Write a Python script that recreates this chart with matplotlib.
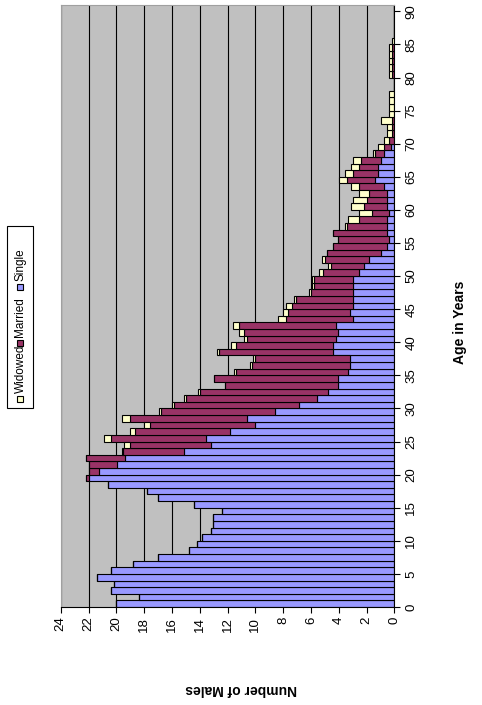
import numpy as np
import matplotlib
matplotlib.use("Agg")
import matplotlib.pyplot as plt
from matplotlib.patches import Rectangle

# age 0..90, males by marital status
ages = list(range(91))
single = [20.0, 18.35, 20.38, 20.19, 21.41, 20.38, 18.82, 16.98, 14.77, 14.17,
          13.81, 13.21, 13.02, 13.02, 12.37, 14.39, 16.98, 17.77, 20.58, 21.99,
          21.22, 19.98, 19.38, 15.16, 13.21, 13.57, 11.8, 10.02, 10.6, 8.59,
          6.83, 5.59, 4.8, 4.03, 4.03, 3.36, 3.19, 3.19, 4.39, 4.39,
          4.22, 4.03, 4.2, 3.0, 3.19, 3.0, 3.0, 2.95, 2.95, 2.95,
          2.57, 2.16, 1.8, 0.96, 0.55, 0.36, 0.55, 0.55, 0.55, 0.36,
          0.55, 0.55, 0.55, 0.74, 1.4, 1.2, 1.15, 0.96, 0.74, 0.25,
          0, 0, 0, 0, 0, 0, 0, 0, 0, 0,
          0, 0, 0, 0, 0, 0, 0, 0, 0, 0, 0]
married = [0, 0, 0, 0, 0, 0, 0, 0, 0, 0,
           0, 0, 0, 0, 0, 0, 0, 0, 0, 0.21,
           0.77, 2.01, 2.82, 4.38, 5.78, 6.81, 6.83, 7.56, 8.42, 8.2,
           9.0, 9.37, 9.18, 8.13, 8.94, 8.03, 7.03, 6.83, 8.2, 7.0,
           6.36, 6.76, 6.98, 4.82, 4.44, 4.39, 4.05, 3.05, 2.85, 2.85,
           2.59, 2.42, 3.19, 3.86, 3.84, 3.67, 3.84, 2.83, 1.99, 1.22,
           1.63, 1.44, 1.25, 1.83, 1.97, 1.8, 1.42, 1.42, 0.63, 0.49,
           0.36, 0.19, 0.17, 0.17, 0, 0, 0, 0, 0, 0,
           0.15, 0.15, 0.15, 0.15, 0.15, 0, 0, 0, 0, 0, 0]
widowed = [0, 0, 0, 0, 0, 0, 0, 0, 0, 0,
           0, 0, 0, 0, 0, 0, 0, 0, 0, 0,
           0, 0, 0, 0.06, 0.43, 0.48, 0.37, 0.43, 0.58, 0.16,
           0.14, 0.2, 0.17, 0, 0, 0.14, 0.16, 0.17, 0.19, 0.38,
           0.21, 0.41, 0.4, 0.57, 0.36, 0.4, 0.18, 0.16, 0.15, 0.15,
           0.24, 0.17, 0.19, 0, 0, 0, 0, 0.17, 0.82, 0.99,
           0.96, 0.96, 0.77, 0.57, 0.6, 0.55, 0.57, 0.57, 0.17, 0.41,
           0.38, 0.36, 0.38, 0.76, 0.36, 0.36, 0.36, 0.36, 0, 0,
           0.21, 0.21, 0.21, 0.21, 0.21, 0.19, 0, 0, 0, 0, 0]
labels = ['Single', 'Married', 'Widowed']
colors = ['#9999FF', '#993366', '#FFFFCC']

plt.rcParams['font.family'] = ['Liberation Sans', 'DejaVu Sans']

W, H = 482, 705
fig = plt.figure(figsize=(W / 100, H / 100), dpi=100)
ax = fig.add_axes([60.7 / W, (H - 607) / H, (394.3 - 60.7) / W, (607 - 4.7) / H])
ax.set_facecolor('#C0C0C0')

s = np.array(single)
m = np.array(married)
w = np.array(widowed)
kw = dict(height=1, align='edge', edgecolor='black', linewidth=0.8)
ax.barh(ages, s, color=colors[0], **kw)
ax.barh(ages, m, left=s, color=colors[1], **kw)
ax.barh(ages, w, left=s + m, color=colors[2], **kw)

ax.set_xlim(24, 0)
ax.set_ylim(0, 91)
ax.set_xticks(range(0, 25, 2))
ax.set_yticks(range(0, 91, 5))
ax.grid(axis='x', color='black', linewidth=0.8)
ax.set_axisbelow(True)

ax.yaxis.tick_right()
ax.tick_params(direction='out', length=4, width=0.8, colors='black', labelsize=9.5)
ax.tick_params(axis='x', labelrotation=90, pad=3)
ax.tick_params(axis='y', labelrotation=90, pad=4)
for t in ax.get_yticklabels():
    t.set_va('center')

for side in ['left', 'top']:
    ax.spines[side].set_color('#A0A0A0')
for side in ['right', 'bottom']:
    ax.spines[side].set_color('black')

fig.text(241 / W, 1 - 689 / H, 'Number of Males', rotation=180,
         ha='center', va='center', fontsize=10, fontweight='bold')
fig.text(460 / W, 1 - 322 / H, 'Age in Years', rotation=90,
         ha='center', va='center', fontsize=10, fontweight='bold')

# legend, turned on its side like the rest of the chart
fig.patches.append(Rectangle((7 / W, 1 - 408 / H), 26 / W, 182 / H,
                             transform=fig.transFigure, facecolor='white',
                             edgecolor='black', linewidth=0.8))
sq_y = [290, 346, 402]
for lab, col, y in zip(labels, colors, sq_y):
    fig.patches.append(Rectangle((17 / W, 1 - y / H), 6 / W, 6 / H,
                                 transform=fig.transFigure, facecolor=col,
                                 edgecolor='black', linewidth=0.8))
    fig.text(20.5 / W, 1 - (y - 9) / H, lab, rotation=90, ha='center',
             va='bottom', fontsize=8.5)

fig.savefig('out.png', dpi=100)
